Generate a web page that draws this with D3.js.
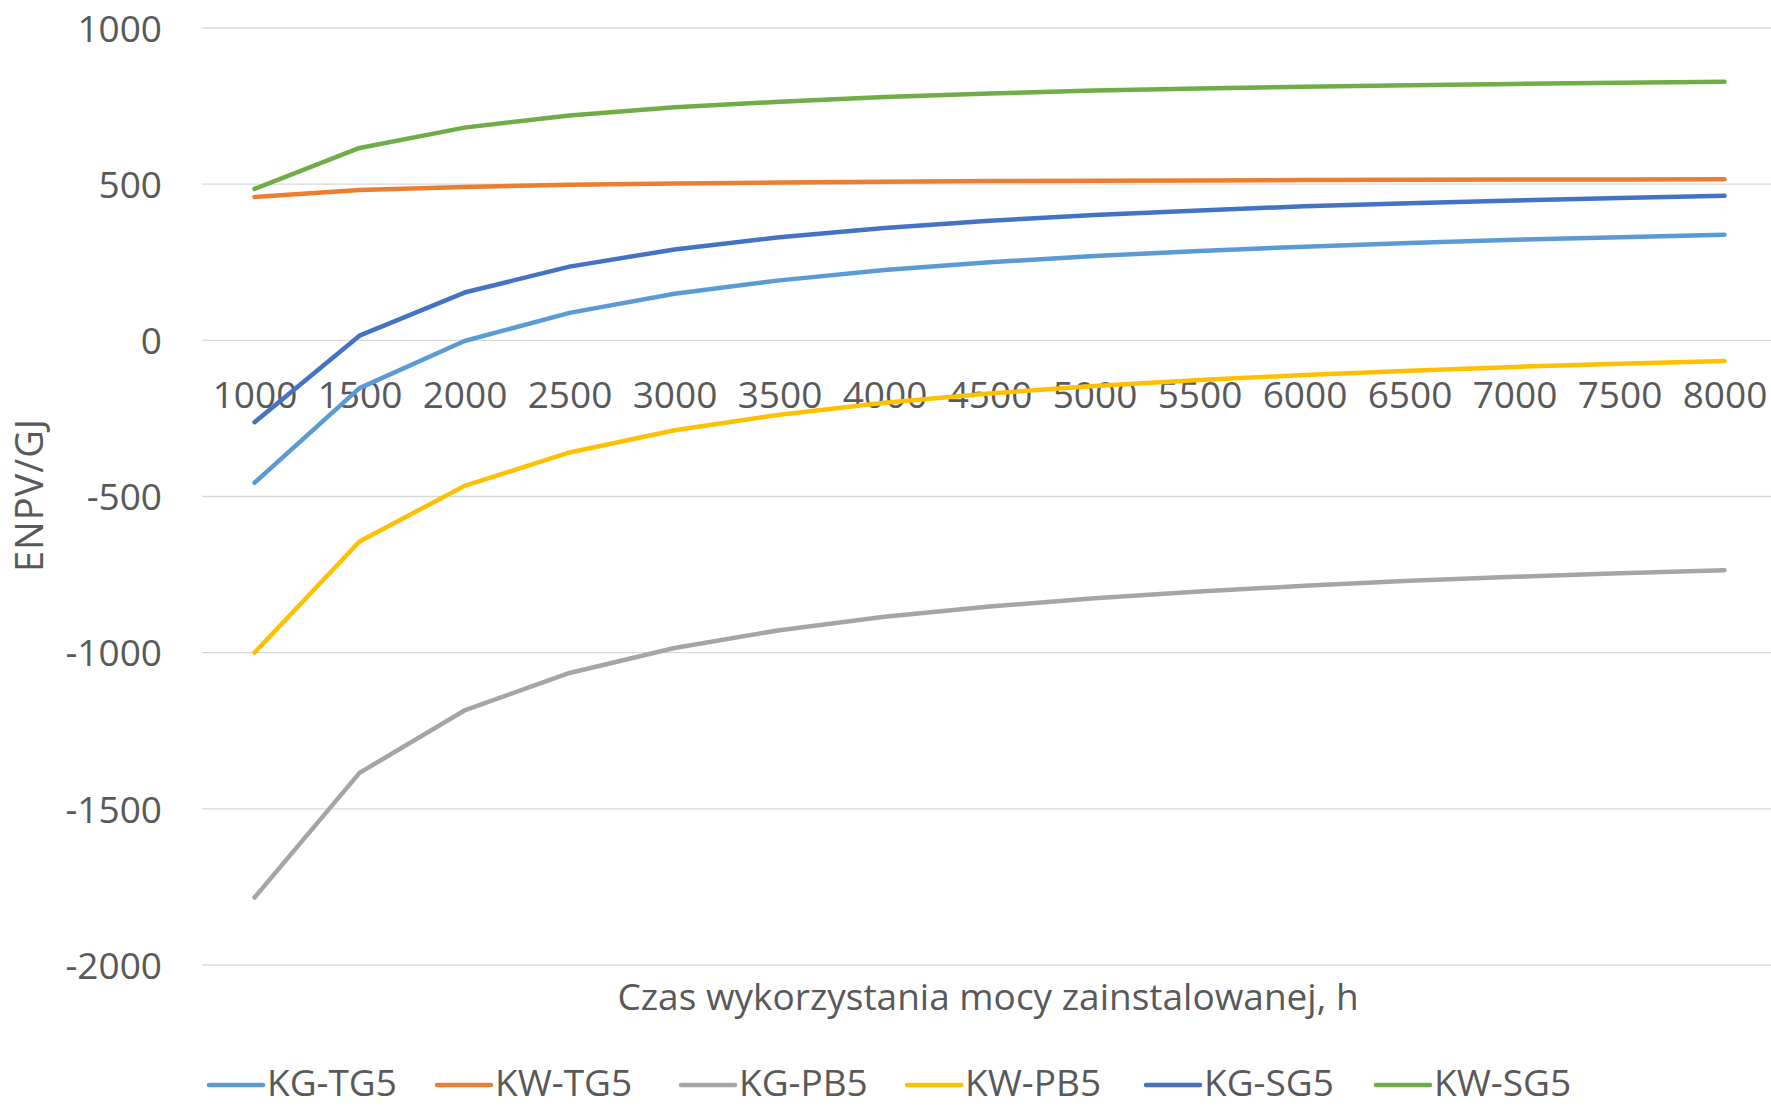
<!DOCTYPE html>
<html>
<head>
<meta charset="utf-8">
<script src="https://cdn.jsdelivr.net/npm/d3@7"></script>
<style>
  html, body { margin: 0; padding: 0; background: #fff; }
  svg { display: block; font-family: "Open Sans", sans-serif; }
</style>
</head>
<body>
<svg id="chart" width="1771" height="1106"></svg>
<script>
// Operating hours of installed capacity (category axis)
const hours = [1000, 1500, 2000, 2500, 3000, 3500, 4000, 4500, 5000, 5500, 6000, 6500, 7000, 7500, 8000];

// ENPV/GJ per variant
const kgTG5 = [-456, -153, -2, 88, 149, 192, 225, 250, 270, 286, 300, 312, 322, 330, 338];
const kwTG5 = [459, 481, 491, 498, 502, 505, 508, 510, 511, 512, 513, 514, 515, 515, 516];
const kgPB5 = [-1784, -1385, -1185, -1065, -985, -928, -885, -852, -826, -804, -786, -770, -757, -746, -736];
const kwPB5 = [-1000, -644, -466, -359, -288, -238, -200, -170, -146, -127, -111, -97, -85, -75, -66];
const kgSG5 = [-262, 15, 153, 236, 291, 330, 360, 383, 401, 416, 429, 439, 448, 456, 463];
const kwSG5 = [485, 616, 681, 720, 746, 764, 779, 790, 800, 806, 812, 817, 821, 825, 828];

const seriesNames = ["KG-TG5", "KW-TG5", "KG-PB5", "KW-PB5", "KG-SG5", "KW-SG5"];
const seriesValues = [kgTG5, kwTG5, kgPB5, kwPB5, kgSG5, kwSG5];
const seriesColors = ["#5B9BD5", "#ED7D31", "#A5A5A5", "#FFC000", "#4472C4", "#70AD47"];

const yTicks = [1000, 500, 0, -500, -1000, -1500, -2000];
const yTitle = "ENPV/GJ";
const xTitle = "Czas wykorzystania mocy zainstalowanej, h";

const svg = d3.select("#chart");
const textColor = "#595959";

const plot = { left: 202, right: 1777, top: 28, bottom: 965 };

const x = d3.scalePoint()
  .domain(hours)
  .range([plot.left, plot.right])
  .padding(0.5);

const y = d3.scaleLinear()
  .domain([-2000, 1000])
  .range([plot.bottom, plot.top]);

// Horizontal gridlines
svg.append("g")
  .selectAll("line")
  .data(yTicks)
  .join("line")
  .attr("x1", plot.left)
  .attr("x2", 1771)
  .attr("y1", d => y(d))
  .attr("y2", d => y(d))
  .attr("stroke", "#D9D9D9")
  .attr("stroke-width", 1.3);

// Y axis labels (plain integers, hyphen-minus)
const yAxis = d3.axisLeft(y)
  .tickValues(yTicks)
  .tickFormat(d => String(d))
  .tickSize(0)
  .tickPadding(0);
const gy = svg.append("g")
  .attr("transform", `translate(${plot.left - 40},0)`)
  .call(yAxis);
gy.select(".domain").remove();
gy.selectAll("text")
  .attr("fill", textColor)
  .attr("font-size", 37)
  .attr("font-family", "Open Sans, sans-serif")
  .attr("dy", "0.36em");

// X axis labels, sitting just below the zero line
const xAxis = d3.axisBottom(x).tickFormat(d => String(d)).tickSize(0).tickPadding(0);
const gx = svg.append("g")
  .attr("transform", `translate(0,${y(0)})`)
  .call(xAxis);
gx.select(".domain").remove();
gx.selectAll("text")
  .attr("fill", textColor)
  .attr("font-size", 37)
  .attr("font-family", "Open Sans, sans-serif")
  .attr("dy", null)
  .attr("y", 68);

// Series lines
const line = d3.line()
  .x((d, i) => x(hours[i]))
  .y(d => y(d));

svg.append("g")
  .selectAll("path")
  .data(seriesValues)
  .join("path")
  .attr("d", d => line(d))
  .attr("fill", "none")
  .attr("stroke", (d, i) => seriesColors[i])
  .attr("stroke-width", 4.5)
  .attr("stroke-linecap", "round")
  .attr("stroke-linejoin", "round");

// Axis titles
svg.append("text")
  .attr("transform", `translate(43,495) rotate(-90)`)
  .attr("text-anchor", "middle")
  .attr("fill", textColor)
  .attr("font-size", 38)
  .attr("letter-spacing", 1)
  .text(yTitle);

svg.append("text")
  .attr("x", 988)
  .attr("y", 1010)
  .attr("text-anchor", "middle")
  .attr("fill", textColor)
  .attr("font-size", 37)
  .text(xTitle);

// Legend
const legendX = [209, 437, 681, 907, 1146, 1376];
const legend = svg.append("g")
  .selectAll("g")
  .data(seriesNames)
  .join("g")
  .attr("transform", (d, i) => `translate(${legendX[i]},1085)`);

legend.append("line")
  .attr("x1", 0).attr("x2", 54)
  .attr("y1", 0).attr("y2", 0)
  .attr("stroke", (d, i) => seriesColors[i])
  .attr("stroke-width", 4.5)
  .attr("stroke-linecap", "round");

legend.append("text")
  .attr("x", 58)
  .attr("y", 11)
  .attr("fill", textColor)
  .attr("font-size", 37)
  .text(d => d);
</script>
</body>
</html>
